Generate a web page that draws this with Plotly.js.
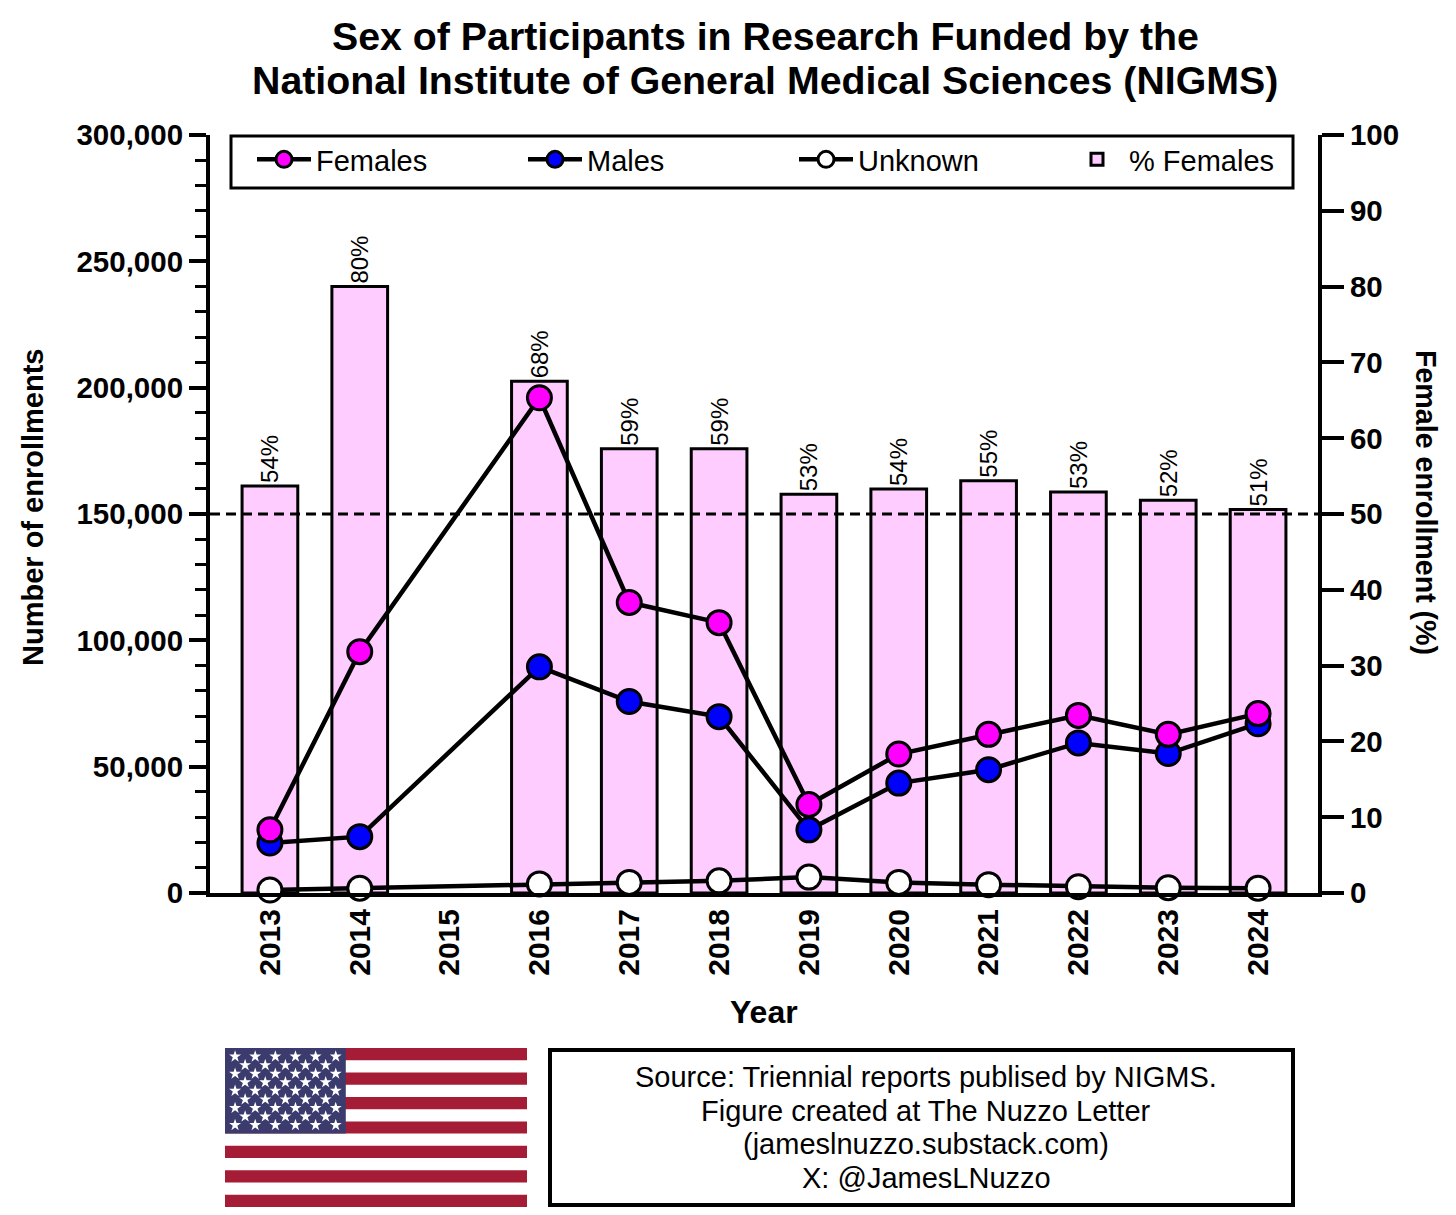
<!DOCTYPE html>
<html>
<head>
<meta charset="utf-8">
<script src="https://cdn.plot.ly/plotly-3.0.1.min.js"></script>
<style>html,body{margin:0;padding:0;background:#fff;}#chart{width:1456px;height:1215px;}</style>
</head>
<body>
<div id="chart"></div>
<script>
// ---- data ----
const years = [2013, 2014, 2016, 2017, 2018, 2019, 2020, 2021, 2022, 2023, 2024];
const females = [25000, 95500, 196000, 115000, 107000, 35000, 55000, 62800, 70300, 62800, 71000];
const males = [19800, 22300, 89500, 75800, 69800, 25000, 43500, 48800, 59400, 55200, 67000];
const unknown = [1200, 1900, 3600, 4200, 4800, 6300, 4200, 3300, 2500, 2100, 1900];
const pctFemales = [53.7, 80.0, 67.5, 58.6, 58.6, 52.6, 53.3, 54.4, 52.9, 51.8, 50.6];
const pctLabels = ['54%', '80%', '68%', '59%', '59%', '53%', '54%', '55%', '53%', '52%', '51%'];
const tickYears = [2013, 2014, 2015, 2016, 2017, 2018, 2019, 2020, 2021, 2022, 2023, 2024];
const tickYearLabels = ['2013', '2014', '2015', '2016', '2017', '2018', '2019', '2020', '2021', '2022', '2023', '2024'];
const sourceLines = ['Source: Triennial reports publised by NIGMS.', 'Figure created at The Nuzzo Letter', '(jameslnuzzo.substack.com)', 'X: @JamesLNuzzo'];

// ---- geometry (pixels of a 1456x1215 figure) ----
const W = 1456, H = 1215;
const px = v => v / W;
const py = v => 1 - v / H;
const FONT = '"Liberation Sans", Arial, Helvetica, sans-serif';
const XMIN = 2013 - 0.667, XMAX = 2024 + 0.667;

const lineStyle = {color: 'black', width: 4.5};
const mk = (c) => ({size: 24, color: c, line: {color: 'black', width: 3}});

const traces = [
  {
    type: 'bar', name: '% Females', x: years, y: pctFemales, xaxis: 'x', yaxis: 'y',
    width: 0.62, marker: {color: '#FFCCFF', line: {color: 'black', width: 3}},
    text: pctLabels, textposition: 'outside', textangle: -90, constraintext: 'none',
    textfont: {family: FONT, size: 24, color: 'black'}, cliponaxis: false,
    legendrank: 4, hoverinfo: 'skip'
  },
  {
    type: 'scatter', mode: 'lines+markers', name: 'Unknown', x: years, y: unknown,
    xaxis: 'x', yaxis: 'y2', line: lineStyle, marker: mk('white'), cliponaxis: false, legendrank: 3
  },
  {
    type: 'scatter', mode: 'lines+markers', name: 'Males', x: years, y: males,
    xaxis: 'x', yaxis: 'y2', line: lineStyle, marker: mk('#0000FF'), cliponaxis: false, legendrank: 2
  },
  {
    type: 'scatter', mode: 'lines+markers', name: 'Females', x: years, y: females,
    xaxis: 'x', yaxis: 'y2', line: lineStyle, marker: mk('#FF00FF'), cliponaxis: false, legendrank: 1
  }
];

// flag stars (decoration) on their own small axes over the canton
const starX = [], starY = [];
for (let r = 0; r < 9; r++) {
  const n = (r % 2 === 0) ? 6 : 5;
  for (let c = 0; c < n; c++) {
    starX.push((r % 2 === 0) ? (2 * c + 1) / 12 : (2 * c + 2) / 12);
    starY.push(1 - (r + 1) / 10);
  }
}
traces.push({
  type: 'scatter', mode: 'markers', x: starX, y: starY, xaxis: 'x3', yaxis: 'y3',
  marker: {symbol: 'star', size: 9, color: 'white', line: {width: 0}},
  showlegend: false, hoverinfo: 'skip'
});

const shapes = [];
// 50% dashed reference line
shapes.push({type: 'line', xref: 'x', yref: 'y', x0: XMIN, x1: XMAX, y0: 50, y1: 50,
  line: {color: 'black', width: 3, dash: '10px,6px'}, layer: 'above'});
// legend frame
shapes.push({type: 'rect', xref: 'paper', yref: 'paper', x0: px(231), x1: px(1293),
  y0: py(136), y1: py(188), line: {color: 'black', width: 3}, fillcolor: 'white', layer: 'below'});
// flag
const fx0 = 225, fx1 = 527, fy0 = 1048, fy1 = 1207;
const sh = (fy1 - fy0) / 13;
for (let i = 0; i < 13; i += 2) {
  shapes.push({type: 'rect', xref: 'paper', yref: 'paper', x0: px(fx0), x1: px(fx1),
    y0: py(fy0 + i * sh), y1: py(fy0 + (i + 1) * sh), fillcolor: '#A51C36', line: {width: 0}, layer: 'below'});
}
shapes.push({type: 'rect', xref: 'paper', yref: 'paper', x0: px(fx0), x1: px(fx0 + (fx1 - fx0) * 0.4),
  y0: py(fy0), y1: py(fy0 + 7 * sh), fillcolor: '#3C3B6E', line: {width: 0}, layer: 'below'});
// source box
shapes.push({type: 'rect', xref: 'paper', yref: 'paper', x0: px(550), x1: px(1293),
  y0: py(1050), y1: py(1205), line: {color: 'black', width: 4}, fillcolor: 'rgba(0,0,0,0)'});

const annotations = [
  {text: 'Sex of Participants in Research Funded by the', x: px(765), y: py(36), xref: 'paper', yref: 'paper',
   showarrow: false, xanchor: 'center', yanchor: 'middle', font: {family: FONT, size: 39.3, color: 'black', weight: 700}},
  {text: 'National Institute of General Medical Sciences (NIGMS)', x: px(765), y: py(80), xref: 'paper', yref: 'paper',
   showarrow: false, xanchor: 'center', yanchor: 'middle', font: {family: FONT, size: 39.3, color: 'black', weight: 700}},
  {text: 'Number of enrollments', x: px(33), y: py(508), xref: 'paper', yref: 'paper', textangle: -90,
   showarrow: false, xanchor: 'center', yanchor: 'middle', font: {family: FONT, size: 29, color: 'black', weight: 700}},
  {text: 'Female enrollment (%)', x: px(1426), y: py(502), xref: 'paper', yref: 'paper', textangle: 90,
   showarrow: false, xanchor: 'center', yanchor: 'middle', font: {family: FONT, size: 28.6, color: 'black', weight: 700}},
  {text: 'Year', x: px(764), y: py(1012), xref: 'paper', yref: 'paper',
   showarrow: false, xanchor: 'center', yanchor: 'middle', font: {family: FONT, size: 32, color: 'black', weight: 700}}
];
const srcY = [1077, 1111, 1144, 1178];
sourceLines.forEach((t, i) => {
  annotations.push({text: t, x: px(926), y: py(srcY[i]), xref: 'paper', yref: 'paper',
    showarrow: false, xanchor: 'center', yanchor: 'middle', font: {family: FONT, size: 29, color: 'black'}});
});

const axFont = {family: FONT, size: 29.5, color: 'black', weight: 700};
const layout = {
  width: W, height: H,
  margin: {l: 0, r: 0, t: 0, b: 0, pad: 0},
  paper_bgcolor: 'white', plot_bgcolor: 'rgba(0,0,0,0)',
  font: {family: FONT, color: 'black'},
  showlegend: true,
  legend: {orientation: 'h', x: px(252), y: py(134), xanchor: 'left', yanchor: 'top',
    borderwidth: 0, bgcolor: 'rgba(0,0,0,0)', entrywidth: 202, itemwidth: 54,
    font: {family: FONT, size: 29, color: 'black'}, itemsizing: 'trace'},
  bargap: 0,
  xaxis: {
    domain: [px(210), px(1318)], range: [XMIN, XMAX], anchor: 'y',
    tickmode: 'array', tickvals: tickYears, ticktext: tickYearLabels, tickangle: -90,
    ticks: '', showgrid: false, zeroline: false, showline: true, linecolor: 'black', linewidth: 4,
    tickfont: {family: FONT, size: 30, color: 'black', weight: 700}, fixedrange: true
  },
  yaxis: {
    domain: [py(893), py(135)], range: [0, 100], side: 'right', anchor: 'x',
    dtick: 10, tick0: 0, ticks: 'outside', ticklen: 22, tickwidth: 4, tickcolor: 'black',
    showgrid: false, zeroline: false, showline: true, linecolor: 'black', linewidth: 4,
    tickfont: axFont, fixedrange: true
  },
  yaxis2: {
    overlaying: 'y', side: 'left', range: [0, 300000], anchor: 'x',
    dtick: 50000, tick0: 0, tickformat: ',', ticks: 'outside', ticklen: 17, tickwidth: 4, tickcolor: 'black',
    minor: {dtick: 10000, ticks: 'outside', ticklen: 11, tickwidth: 3, tickcolor: 'black'},
    showgrid: false, zeroline: false, showline: true, linecolor: 'black', linewidth: 4,
    tickfont: axFont, fixedrange: true
  },
  xaxis3: {domain: [px(fx0), px(fx0 + (fx1 - fx0) * 0.4)], range: [0, 1], anchor: 'y3', visible: false, fixedrange: true},
  yaxis3: {domain: [py(fy0 + 7 * (fy1 - fy0) / 13), py(fy0)], range: [0, 1], anchor: 'x3', visible: false, fixedrange: true},
  shapes: shapes,
  annotations: annotations
};

Plotly.newPlot('chart', traces, layout, {displayModeBar: false, staticPlot: true});
</script>
</body>
</html>
